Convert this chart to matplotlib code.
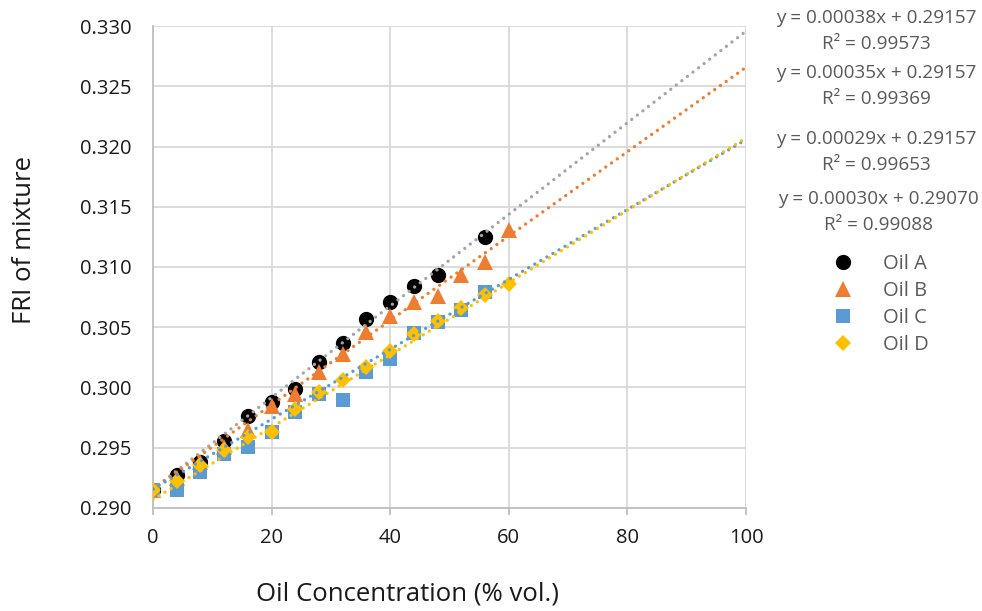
import matplotlib
matplotlib.use("Agg")
import matplotlib.pyplot as plt
from matplotlib.lines import Line2D
import numpy as np

# Measured FRI values for each oil blend
conc_a = [0, 4, 8, 12, 16, 20, 24, 28, 32, 36, 40, 44, 48, 56]
fri_a = [0.2915, 0.2927, 0.2938, 0.2956, 0.2976, 0.2988, 0.2999, 0.3021,
         0.3037, 0.3057, 0.3071, 0.3084, 0.3093, 0.3125]

conc_b = [0, 4, 8, 12, 16, 20, 24, 28, 32, 36, 40, 44, 48, 52, 56, 60]
fri_b = [0.2915, 0.2925, 0.2938, 0.2951, 0.2965, 0.2985, 0.2995, 0.3013,
         0.3028, 0.3046, 0.3059, 0.3071, 0.3076, 0.3093, 0.3104, 0.3131]

conc_c = [0, 4, 8, 12, 16, 20, 24, 28, 32, 36, 40, 44, 48, 52, 56]
fri_c = [0.2915, 0.2915, 0.2930, 0.2945, 0.2951, 0.2963, 0.2980, 0.2995,
         0.2990, 0.3013, 0.3024, 0.3045, 0.3054, 0.3064, 0.3079]

conc_d = [0, 4, 8, 12, 16, 20, 24, 28, 32, 36, 40, 44, 48, 52, 56, 60]
fri_d = [0.2915, 0.2922, 0.2936, 0.2948, 0.2959, 0.2963, 0.2982, 0.2996,
         0.3006, 0.3017, 0.3030, 0.3044, 0.3055, 0.3066, 0.3077, 0.3086]

# Linear trendline coefficients and fit quality
slopes = [0.00038, 0.00035, 0.00029, 0.00030]
intercepts = [0.29157, 0.29157, 0.29157, 0.29070]
r_squared = [0.99573, 0.99369, 0.99653, 0.99088]

series_names = ["Oil A", "Oil B", "Oil C", "Oil D"]
x_ticks = [0, 20, 40, 60, 80, 100]
y_ticks = [0.290, 0.295, 0.300, 0.305, 0.310, 0.315, 0.320, 0.325, 0.330]

marker_colors = ["#000000", "#ED7D31", "#5B9BD5", "#FFC000"]
trend_colors = ["#A5A5A5", "#ED7D31", "#5B9BD5", "#FFC000"]
markers = ["o", "^", "s", "D"]
msizes = [11, 11, 10.5, 8]

plt.rcParams["font.family"] = ["Open Sans", "DejaVu Sans"]

fig = plt.figure(figsize=(9.82, 6.11), dpi=100)
ax = fig.add_axes([153 / 982, 1 - 508 / 611, (746 - 153) / 982, (508 - 26) / 611])

xs = [conc_a, conc_b, conc_c, conc_d]
ys = [fri_a, fri_b, fri_c, fri_d]

for i in range(4):
    ax.plot(xs[i], ys[i], linestyle="none", marker=markers[i], ms=msizes[i],
            color=marker_colors[i], markeredgewidth=0, zorder=3)

xline = np.array([0, 100])
for i in range(4):
    ax.plot(xline, slopes[i] * xline + intercepts[i], color=trend_colors[i],
            lw=2.4, linestyle=(0, (0.01, 2.1)), dash_capstyle="round", zorder=4)

ax.set_xlim(0, 100)
ax.set_ylim(0.290, 0.330)
ax.set_xticks(x_ticks)
ax.set_yticks(y_ticks)
ax.set_yticklabels([f"{v:.3f}" for v in y_ticks])
ax.grid(True, color="#D9D9D9", lw=1.3, zorder=0)
ax.set_axisbelow(True)
for s in ["top", "right"]:
    ax.spines[s].set_visible(False)
for s in ["left", "bottom"]:
    ax.spines[s].set_color("#BFBFBF")
    ax.spines[s].set_linewidth(1.3)
ax.tick_params(axis="x", length=5, width=1.3, color="#BFBFBF", pad=9.5,
               labelsize=14.5, labelcolor="#1a1a1a")
ax.tick_params(axis="y", length=0, pad=15.5, labelsize=14.5, labelcolor="#1a1a1a")

fig.text(25 / 982, 1 - 240 / 611, "FRI of mixture", rotation=90, ha="center",
         va="center", fontsize=18.5, color="#1a1a1a")
fig.text(408 / 982, 1 - 594 / 611, "Oil Concentration (% vol.)", ha="center",
         va="center", fontsize=18.5, color="#1a1a1a")

# Trendline equations
eq_y = [(18, 44), (73, 99), (139, 165), (199, 225)]
eq_x = [876, 876, 876, 878]
for i in range(4):
    fig.text(eq_x[i] / 982, 1 - eq_y[i][0] / 611,
             f"y = {slopes[i]:.5f}x + {intercepts[i]:.5f}",
             ha="center", va="center", fontsize=13.6, color="#595959")
    fig.text(eq_x[i] / 982, 1 - eq_y[i][1] / 611,
             f"R² = {r_squared[i]:.5f}",
             ha="center", va="center", fontsize=13.6, color="#595959")

handles = [Line2D([], [], linestyle="none", marker=markers[i], ms=msizes[i],
                  color=marker_colors[i], markeredgewidth=0) for i in range(4)]
fig.legend(handles, series_names, loc="upper left",
           bbox_to_anchor=(813 / 982, 1 - 244 / 611), frameon=False,
           fontsize=14.5, labelcolor="#595959", handletextpad=1.0,
           labelspacing=0.35, borderpad=0)

fig.savefig("out.png", dpi=100, facecolor="white")
